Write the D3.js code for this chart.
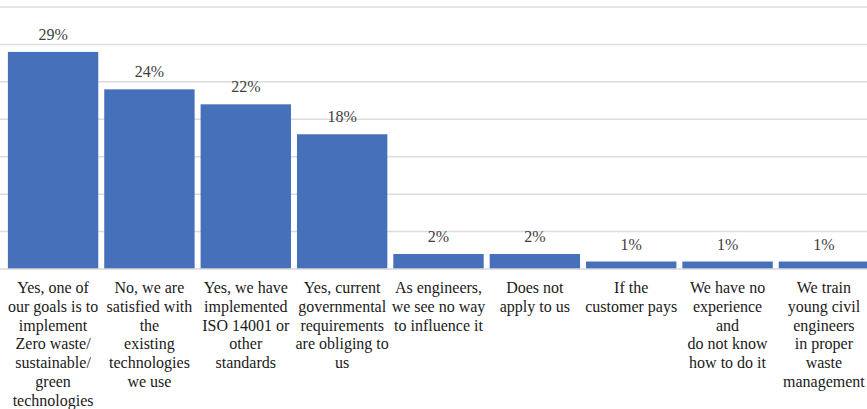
<!DOCTYPE html>
<html><head><meta charset="utf-8">
<script src="https://cdn.jsdelivr.net/npm/d3@7"></script>
<style>body{margin:0;background:#fff}svg{display:block}</style>
</head><body>
<svg id="c" width="867" height="409"></svg>
<script>
const categories = [
  ["Yes, one of","our goals is to","implement","Zero waste/","sustainable/","green","technologies"],
  ["No, we are","satisfied with","the","existing","technologies","we use"],
  ["Yes, we have","implemented","ISO 14001 or","other","standards"],
  ["Yes, current","governmental","requirements","are obliging to","us"],
  ["As engineers,","we see no way","to influence it"],
  ["Does not","apply to us"],
  ["If the","customer pays"],
  ["We have no","experience","and","do not know","how to do it"],
  ["We train","young civil","engineers","in proper","waste","management"]
];
const values = [29, 24, 22, 18, 2, 2, 1, 1, 1];
const gridTicks = [0, 5, 10, 15, 20, 25, 30, 35];
const FONT = "'Liberation Serif', serif";

const svg = d3.select("#c");
const x = d3.scaleBand().domain(d3.range(values.length)).range([5, 872]).paddingInner(0.062).paddingOuter(0.03);
const y = d3.scaleLinear().domain([0, 35]).range([269, 7]);

svg.append("g").selectAll("line").data(gridTicks.filter(d => d > 0)).join("line")
  .attr("x1", 0).attr("x2", 867).attr("y1", d => y(d)).attr("y2", d => y(d))
  .attr("stroke", "#dcdcdc").attr("stroke-width", 1.5);

svg.append("g").selectAll("rect").data(values).join("rect")
  .attr("x", (d, i) => x(i)).attr("width", x.bandwidth())
  .attr("y", d => y(d)).attr("height", d => y(0) - y(d))
  .attr("fill", "#4770bb");

svg.append("line").attr("x1", 0).attr("x2", 867).attr("y1", y(0)).attr("y2", y(0))
  .attr("stroke", "#d9d9d9").attr("stroke-width", 1.5);

svg.append("g").selectAll("text").data(values).join("text")
  .attr("x", (d, i) => x(i) + x.bandwidth() / 2).attr("y", d => y(d) - 12)
  .attr("text-anchor", "middle")
  .style("font-family", FONT).style("font-size", "16px")
  .attr("fill", "#404040").text(d => d + "%");

const lab = svg.append("g").selectAll("text").data(categories).join("text")
  .attr("text-anchor", "middle")
  .style("font-family", FONT).style("font-size", "16px")
  .attr("fill", "#1a1a1a");
lab.each(function(lines, i) {
  d3.select(this).selectAll("tspan").data(lines).join("tspan")
    .attr("x", x(i) + x.bandwidth() / 2).attr("y", (d, j) => 293 + j * 18.8).text(d => d);
});
</script>
</body></html>
